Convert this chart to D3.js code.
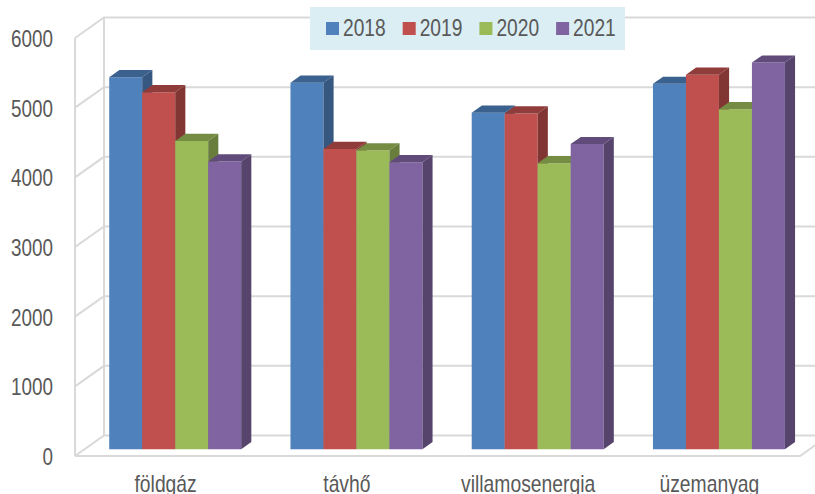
<!DOCTYPE html>
<html>
<head>
<meta charset="utf-8">
<script src="https://cdn.jsdelivr.net/npm/d3@7"></script>
<style>
  html, body { margin: 0; padding: 0; background: #fff; }
  svg { display: block; font-family: "Liberation Sans", Arial, sans-serif; }
</style>
</head>
<body>
<svg id="chart" width="815" height="494"></svg>
<script>
// chart data
const categories = ["földgáz", "távhő", "villamosenergia", "üzemanyag"];
const years = ["2018", "2019", "2020", "2021"];
const v2018 = [5340, 5260, 4830, 5245];
const v2019 = [5125, 4310, 4820, 5375];
const v2020 = [4425, 4290, 4105, 4880];
const v2021 = [4130, 4120, 4380, 5550];
const yTicks = [0, 1000, 2000, 3000, 4000, 5000, 6000];
const colors = ["#4f81bd", "#c0504d", "#9bbb59", "#8064a2"];

const series = [v2018, v2019, v2020, v2021];

const W = 815, H = 494;
// depth of the 3D box (back wall offset) and where bars sit inside it
const DX = 29, DY = 20.5;
const T0 = 0.33, T1 = 0.68;

const svg = d3.select("#chart");

const x0 = d3.scaleBand().domain(categories).range([75, 800])
  .paddingInner(0.272).paddingOuter(0.136);
const x1 = d3.scaleBand().domain(years).range([0, x0.bandwidth()]);
const y = d3.scaleLinear().domain([0, 6000]).range([456, 38]);

const color = d3.scaleOrdinal().domain(years).range(colors);

// project a front-plane point to depth t
const P = (px, py, t) => [px + DX * t, py - DY * t];

// the original text is a bit squeezed horizontally
const squeeze = (x, yy, sx) => `translate(${x},${yy}) scale(${sx},1)`;

// ── walls & gridlines ───────────────────────────────────────────
const grid = svg.append("g")
  .attr("fill", "none")
  .attr("stroke", "#d9d9d9")
  .attr("stroke-width", 2);

const xL = x0.range()[0], xR = x0.range()[1];

// back wall horizontals + side wall diagonals
yTicks.forEach(v => {
  const f = [xL, y(v)];
  const b = P(xL, y(v), 1);
  grid.append("path").attr("d", d3.line()([f, b, [W + 20, b[1]]]));
});
// verticals of the left wall
grid.append("line")
  .attr("x1", xL).attr("x2", xL)
  .attr("y1", y(6000)).attr("y2", y(0));
grid.append("line")
  .attr("x1", xL + DX).attr("x2", xL + DX)
  .attr("y1", y(6000) - DY).attr("y2", y(0) - DY);
// floor front edge and right side
grid.append("path")
  .attr("d", d3.line()([[xL, y(0)], [xR, y(0)], P(xR, y(0), 1)]));

// ── bars ────────────────────────────────────────────────────────
const bars = [];
categories.forEach((c, ci) => {
  years.forEach((yr, si) => {
    bars.push({ cat: c, year: yr, value: series[si][ci] });
  });
});

const face = pts => d3.line()(pts) + "Z";

const barG = svg.append("g")
  .selectAll("g")
  .data(bars)
  .join("g");

barG.each(function(d) {
  const g = d3.select(this);
  const xa = x0(d.cat) + x1(d.year);
  const xb = xa + x1.bandwidth();
  const yt = y(d.value), yb = y(0);
  const base = d3.color(color(d.year));

  // front face
  g.append("path")
    .attr("d", face([P(xa, yt, T0), P(xb, yt, T0), P(xb, yb, T0), P(xa, yb, T0)]))
    .attr("fill", base.formatHex());
  // top face
  g.append("path")
    .attr("d", face([P(xa, yt, T0), P(xb, yt, T0), P(xb, yt, T1), P(xa, yt, T1)]))
    .attr("fill", base.darker(0.8).formatHex());
  // right side face
  g.append("path")
    .attr("d", face([P(xb, yt, T0), P(xb, yt, T1), P(xb, yb, T1), P(xb, yb, T0)]))
    .attr("fill", base.darker(1.1).formatHex());
});

// ── axes labels ─────────────────────────────────────────────────
svg.append("g")
  .selectAll("text")
  .data(yTicks)
  .join("text")
  .attr("transform", d => squeeze(53, y(d) + 1, 0.82))
  .attr("dy", "0.35em")
  .attr("text-anchor", "end")
  .attr("font-size", 23)
  .attr("fill", "#595959")
  .text(d => d);

svg.append("g")
  .selectAll("text")
  .data(categories)
  .join("text")
  .attr("transform", d => squeeze(x0(d) + x0.bandwidth() / 2, 492, 0.84))
  .attr("text-anchor", "middle")
  .attr("font-size", 23)
  .attr("fill", "#595959")
  .text(d => d);

// ── legend ──────────────────────────────────────────────────────
const legend = svg.append("g");
legend.append("rect")
  .attr("x", 310).attr("y", 7)
  .attr("width", 315).attr("height", 43)
  .attr("fill", "#daeef3");

const item = legend.selectAll("g.item")
  .data(years)
  .join("g")
  .attr("class", "item")
  .attr("transform", (d, i) => `translate(${326 + i * 76.7},0)`);
item.append("rect")
  .attr("y", 22).attr("width", 13).attr("height", 13)
  .attr("fill", d => color(d));
item.append("text")
  .attr("transform", squeeze(17, 36, 0.8))
  .attr("font-size", 24)
  .attr("fill", "#595959")
  .text(d => d);
</script>
</body>
</html>
